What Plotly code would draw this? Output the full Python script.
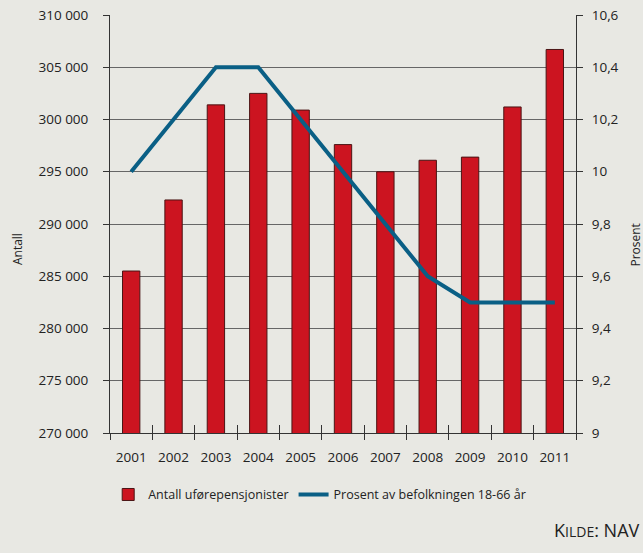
import plotly.graph_objects as go

years = ["2001", "2002", "2003", "2004", "2005", "2006", "2007", "2008", "2009", "2010", "2011"]
antall = [285500, 292300, 301400, 302500, 300900, 297600, 295000, 296100, 296400, 301200, 306700]
prosent = [10.0, 10.2, 10.4, 10.4, 10.2, 10.0, 9.8, 9.6, 9.5, 9.5, 9.5]

bg = "#e8e8e3"
font = "Open Sans"

fig = go.Figure()
fig.add_trace(go.Bar(
    x=years, y=antall, name="Antall uførepensjonister",
    marker=dict(color="#cc1420", line=dict(color="#4a1515", width=1)),
    xaxis="x", yaxis="y",
))
fig.add_trace(go.Scatter(
    x=years, y=prosent, name="Prosent av befolkningen 18-66 år",
    mode="lines", line=dict(color="#0a5f85", width=4), xaxis="x2", yaxis="y2",
))

fig.update_layout(
    width=643, height=553,
    paper_bgcolor=bg, plot_bgcolor=bg,
    margin=dict(l=110, r=67, t=15, b=120, autoexpand=False),
    separators=", ",
    font=dict(family=font, size=13, color="#222"),
    bargap=0.59,
    showlegend=True,
    legend=dict(orientation="h", x=0.45, y=-0.148, xanchor="center", yanchor="middle",
                font=dict(size=12.5), bgcolor="rgba(0,0,0,0)"),
    xaxis=dict(type="category", showgrid=False, showline=True, linecolor="#333", linewidth=1,
               ticks="outside", ticklen=6, tickcolor="#333", tickson="boundaries",
               ticklabelstandoff=12,
               tickfont=dict(size=13.5), range=[-0.5, 10.5], automargin=False),
    xaxis2=dict(type="category", overlaying="x", side="bottom", anchor="y",
                showgrid=False, showline=False, showticklabels=False,
                ticks="inside", ticklen=8, tickcolor="#333", tickson="boundaries",
                range=[-0.5, 10.5], automargin=False),
    yaxis=dict(range=[270000, 310000], dtick=5000, tickformat=",d",
               showgrid=True, gridcolor="#666", gridwidth=1, automargin=False,
               showline=True, linecolor="#333", ticks="outside", ticklen=6, tickcolor="#333",
               ticklabelstandoff=12, tickfont=dict(size=13.5), zeroline=False),
    yaxis2=dict(range=[9, 10.6], dtick=0.2, overlaying="y", side="right", anchor="x",
                automargin=False,
                showgrid=False, showline=True, linecolor="#333", ticks="outside", ticklen=6,
                tickcolor="#333", zeroline=False, ticklabelstandoff=6, tickfont=dict(size=13.5)),
    annotations=[
        dict(text="K<span style='font-size:14px'>ILDE</span>: NAV",
             xref="paper", yref="paper", x=1.142, y=-0.232, xanchor="right", yanchor="middle",
             showarrow=False, font=dict(size=18, color="#222")),
        dict(text="Antall", textangle=-90, xref="paper", yref="paper", x=-0.1996, y=0.44,
             xanchor="center", yanchor="middle", showarrow=False, font=dict(size=12, color="#222")),
        dict(text="Prosent", textangle=-90, xref="paper", yref="paper", x=1.128, y=0.45,
             xanchor="center", yanchor="middle", showarrow=False, font=dict(size=12, color="#222")),
    ],
)

fig.write_html("out.html", config={"displayModeBar": False},
               post_script="document.body.style.margin='0';document.body.style.background='#e8e8e3';")
